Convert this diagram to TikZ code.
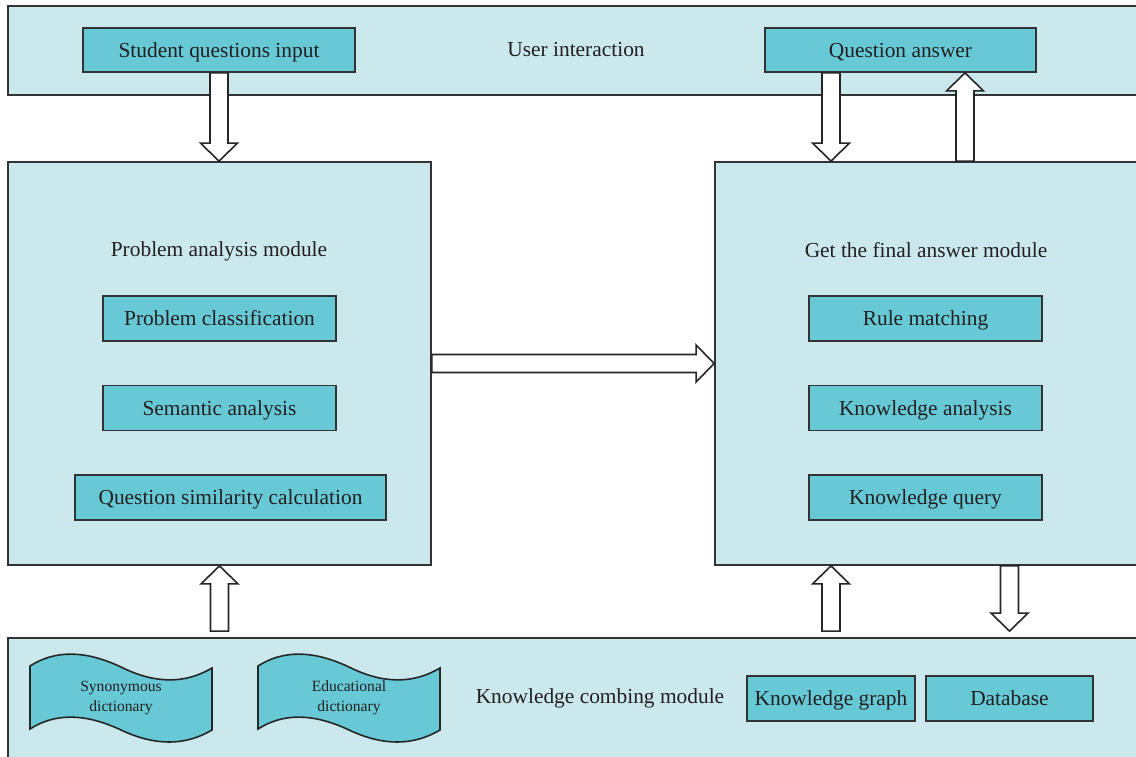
\documentclass[tikz,border=0pt]{standalone}
\usepackage{fontspec}
\setmainfont{Liberation Serif}
\usetikzlibrary{calc}
\definecolor{panel}{HTML}{CBE9ED}
\definecolor{cell}{HTML}{66C9D5}
\definecolor{ink}{HTML}{231F20}
\tikzset{
  band/.style={draw=black!80,fill=panel,line width=0.9pt,inner sep=0pt},
  cellbox/.style={draw=black!80,fill=cell,line width=0.9pt,minimum height=22.5pt,inner sep=0pt,
    text height=0.82em,text depth=0.09em},
  title/.style={text=ink},
  blockarrow/.style={draw=black!85,fill=white,line width=0.8pt,line join=miter},
  wave/.style={draw=black!85,fill=cell,line width=0.8pt},
}
%% hollow arrow: shaft from #1, tip at #2
\newcommand{\fatarrow}[2]{%
  \coordinate (hb) at ($(#2)!9pt!(#1)$);
  \draw[blockarrow] ($(#1)!4.5pt!90:(#2)$) -- ($(hb)!4.5pt!90:(#2)$) -- ($(hb)!9.25pt!90:(#2)$)
    -- (#2) -- ($(hb)!9.25pt!-90:(#2)$) -- ($(hb)!4.5pt!-90:(#2)$) -- ($(#1)!4.5pt!-90:(#2)$) -- cycle;}
\begin{document}
\begin{tikzpicture}[x=0.5pt,y=-0.5pt,font=\fontsize{10.7}{13}\selectfont,text=ink]
    \useasboundingbox (0,0) rectangle (1136,756);
    \begin{scope}
    \clip (0,0) rectangle (1136,756);
    %% Bands and modules
    \node[band,minimum width=566pt,minimum height=44.5pt] (ui) at (574,50.5) {};
    \node[band,minimum width=211.5pt,minimum height=201.5pt] (pam) at (219.5,363.5) {};
    \node[band,minimum width=212.5pt,minimum height=201.5pt] (fam) at (927.5,363.5) {};
    \node[band,minimum width=566pt,minimum height=61pt] (kb) at (574,699) {};
    \end{scope}
    \node[title] (uitxt) at (576,50) {User interaction};
    \node[title] (pamtxt) at (219,251) {Problem analysis module};
    \node[title] (famtxt) at (926,250) {Get the final answer module};
    \node[title] (kbtxt) at (600,698) {Knowledge combing module};
    %% Top row
    \node[cellbox,minimum width=136pt,minimum height=22pt] (sqi) at (219,50) {Student questions input};
    \node[cellbox,minimum width=135.5pt,minimum height=22pt] (qa) at (900.5,50) {Question answer};
    %% Analysis steps
    \node[cellbox,minimum width=116.5pt] (pc) at (219.5,318.5) {Problem classification};
    \node[cellbox,minimum width=116.5pt] (sa) at (219.5,408) {Semantic analysis};
    \node[cellbox,minimum width=155.5pt] (qsc) at (230.5,497.5) {Question similarity calculation};
    %% Answer steps
    \node[cellbox,minimum width=116.5pt] (rm) at (925.5,318.5) {Rule matching};
    \node[cellbox,minimum width=116.5pt] (ka) at (925.5,408) {Knowledge analysis};
    \node[cellbox,minimum width=116.5pt] (kq) at (925.5,497.5) {Knowledge query};
    %% Knowledge sources
    \node[cellbox,minimum width=84pt] (kg) at (831,698.5) {Knowledge graph};
    \node[cellbox,minimum width=83.5pt] (db) at (1009.5,698.5) {Database};
    \foreach \x/\nm/\txt in {30/syn/{Synonymous\\dictionary},258/edu/{Educational\\dictionary}} {
        \draw[wave] (\x,666) .. controls (\x+25,650) and (\x+55,650) .. (\x+91,667)
            .. controls (\x+125,684) and (\x+155,684) .. (\x+182,668) -- (\x+182,730)
            .. controls (\x+155,746) and (\x+125,746) .. (\x+91,730)
            .. controls (\x+55,713) and (\x+25,713) .. (\x,729) -- cycle;
        \node[align=center,font=\fontsize{7.8}{10}\selectfont] (\nm) at (\x+91,698) {\txt};
    }
    %% Arrows
    \coordinate (qdn) at ($(qa.south)+(-69.5,0)$);
    \coordinate (qup) at ($(fam.north)+(37.5,0)$);
    \coordinate (kbl) at ($(pam.south |- kb.north)+(0,-6)$);
    \coordinate (kbm) at ($(kg.north |- kb.north)+(0,-6)$);
    \coordinate (kbr) at ($(db.north |- kb.north)+(0,-6)$);
    \fatarrow{sqi.south}{sqi.south |- pam.north}
    \fatarrow{qdn}{qdn |- fam.north}
    \fatarrow{qup}{qup |- qa.south}
    \fatarrow{pam.east}{fam.west}
    \fatarrow{kbl}{pam.south}
    \fatarrow{kbm}{kbm |- fam.south}
    \fatarrow{kbr |- fam.south}{kbr}
\end{tikzpicture}
\end{document}
